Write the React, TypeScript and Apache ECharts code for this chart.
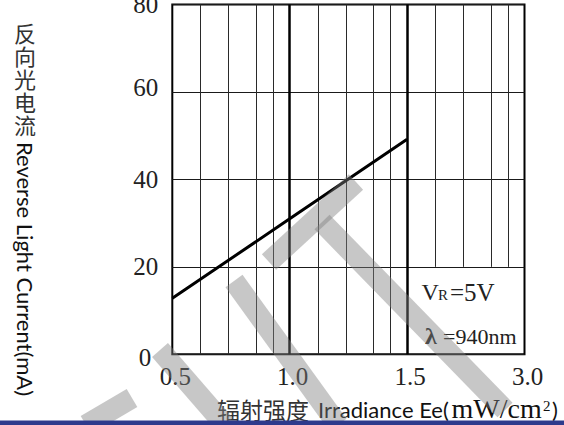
import React, { useEffect, useRef } from 'react';
import * as echarts from 'echarts';

// ---- data ----
const xTickLabels = ['0.5', '1.0', '1.5', '3.0'];
const irradiance = ['0.5', '1.0', '1.5'];
const reverseCurrent = [12.8, 31.0, 49.2];
const yMin = 0;
const yMax = 80;
const yStep = 20;
const minorFractions = [0.242, 0.478, 0.714, 0.86];
const yTitleCjk = ['反', '向', '光', '电', '流'];
const yTitleLatin = 'Reverse Light Current(mA)';

const SERIF = 'Liberation Serif, Times New Roman, serif';
const SANS = 'Lato, Open Sans, sans-serif';
const CJK = 'Noto Sans CJK SC, sans-serif';

export default function App() {
  const ref = useRef<HTMLDivElement>(null);
  useEffect(() => {
    if (!ref.current) return;
    const chart = echarts.init(ref.current, undefined, { renderer: 'svg' });

    const lineData = irradiance.map((v, i) => [xTickLabels.indexOf(v), reverseCurrent[i]]);

    const gridLines: any[] = [];
    for (let k = 0; k < xTickLabels.length - 1; k++) {
      const lowY = k === xTickLabels.length - 2 ? yStep : yMin;
      minorFractions.forEach((f) => {
        gridLines.push([
          { coord: [k + f, lowY], lineStyle: { color: '#2a2a2a', width: 1, type: 'solid' } },
          { coord: [k + f, yMax] },
        ]);
      });
      if (k > 0) {
        gridLines.push([
          { coord: [k, yMin], lineStyle: { color: '#000', width: 2.5, type: 'solid' } },
          { coord: [k, yMax] },
        ]);
      }
    }

    const wm = 'rgba(128,128,128,0.44)';
    const band = (x1: number, y1: number, x2: number, y2: number, w = 21) => ({
      type: 'line',
      z: 100,
      silent: true,
      shape: { x1, y1, x2, y2 },
      style: { stroke: wm, lineWidth: w, lineCap: 'butt' },
    });

    const txt = (text: string, x: number, y: number, font: string, size: number, extra: any = {}) => ({
      type: 'text',
      z: 50,
      x,
      y,
      style: {
        text,
        fontFamily: font,
        fontSize: size,
        fill: '#111',
        align: 'left',
        verticalAlign: 'middle',
        ...extra,
      },
    });

    const graphic: any[] = [
      txt(yTitleCjk.join('\n'), 25, 20, CJK, 22, {
        align: 'center',
        verticalAlign: 'top',
        fill: '#333',
        lineHeight: 23,
      }),
      { ...txt(yTitleLatin, 25, 142, SANS, 22), rotation: -Math.PI / 2 },
      txt('辐射强度', 217, 409, CJK, 23, { fill: '#333' }),
      txt('Irradiance Ee(', 318, 409.5, SANS, 22),
      txt('mW/cm', 451.5, 408.5, SERIF, 28),
      txt('2', 543, 406, SERIF, 15),
      txt(')', 552, 409.5, SANS, 22),
      txt('V', 421.5, 292, SERIF, 24, { fill: '#222' }),
      txt('R', 438, 295, SERIF, 15, { fill: '#222' }),
      txt('=5V', 450, 292, SERIF, 25, { fill: '#222' }),
      txt('λ', 425, 336, SERIF, 24, { fill: '#222', fontWeight: 'bold' }),
      txt('=940nm', 443, 336.6, SERIF, 22, { fill: '#222' }),
      band(269, 262, 356, 182),
      band(322, 222, 505, 410),
      band(234, 281, 338, 425),
      band(160, 350, 225, 425),
      band(86, 425, 132, 398),
      {
        type: 'rect',
        z: 120,
        shape: { x: 0, y: 420.5, width: 564, height: 5 },
        style: { fill: '#2E3A8C' },
      },
    ];

    chart.setOption({
      animation: false,
      backgroundColor: '#fff',
      grid: {
        left: 172.3,
        top: 4.5,
        right: 39.5,
        bottom: 70.7,
        show: true,
        borderColor: '#000',
        borderWidth: 2,
        backgroundColor: 'transparent',
        containLabel: false,
        outerBoundsMode: 'none',
      },
      xAxis: {
        type: 'value',
        min: 0,
        max: xTickLabels.length - 1,
        interval: 1,
        axisLine: { show: false },
        axisTick: { show: false },
        splitLine: { show: false },
        axisLabel: {
          formatter: (v: number) => xTickLabels[Math.round(v)] ?? '',
          fontFamily: SERIF,
          fontSize: 25,
          color: '#222',
          margin: 10,
          padding: [0, 0, 0, 6],
          showMinLabel: true,
          showMaxLabel: true,
        },
      },
      yAxis: {
        type: 'value',
        min: yMin,
        max: yMax,
        interval: yStep,
        axisLine: { show: false },
        axisTick: { show: false },
        splitLine: { show: true, lineStyle: { color: '#1a1a1a', width: 1 } },
        axisLabel: {
          formatter: (v: number) => (v === 0 ? '{z|0}' : v === 60 ? '{s|60}' : String(v)),
          fontFamily: SERIF,
          fontSize: 25,
          color: '#222',
          margin: 14,
          showMinLabel: true,
          showMaxLabel: true,
          rich: {
            z: { fontFamily: SERIF, fontSize: 25, color: '#222', padding: [6, 7, 0, 0] },
            s: { fontFamily: SERIF, fontSize: 25, color: '#222', padding: [0, 0, 8, 0] },
          },
        },
      },
      series: [
        {
          type: 'line',
          data: [[0, 0]],
          symbol: 'none',
          lineStyle: { opacity: 0 },
          silent: true,
          markLine: {
            z: 1,
            silent: true,
            symbol: ['none', 'none'],
            label: { show: false },
            emphasis: { disabled: true },
            animation: false,
            data: gridLines,
          },
        },
        {
          type: 'line',
          data: lineData,
          symbol: 'none',
          showSymbol: false,
          z: 3,
          lineStyle: { color: '#000', width: 3 },
        },
      ],
      graphic,
    });

    return () => chart.dispose();
  }, []);

  return (
    <div
      ref={ref}
      style={{ position: 'fixed', left: 0, top: 0, width: 564, height: 425, background: '#fff' }}
    />
  );
}
